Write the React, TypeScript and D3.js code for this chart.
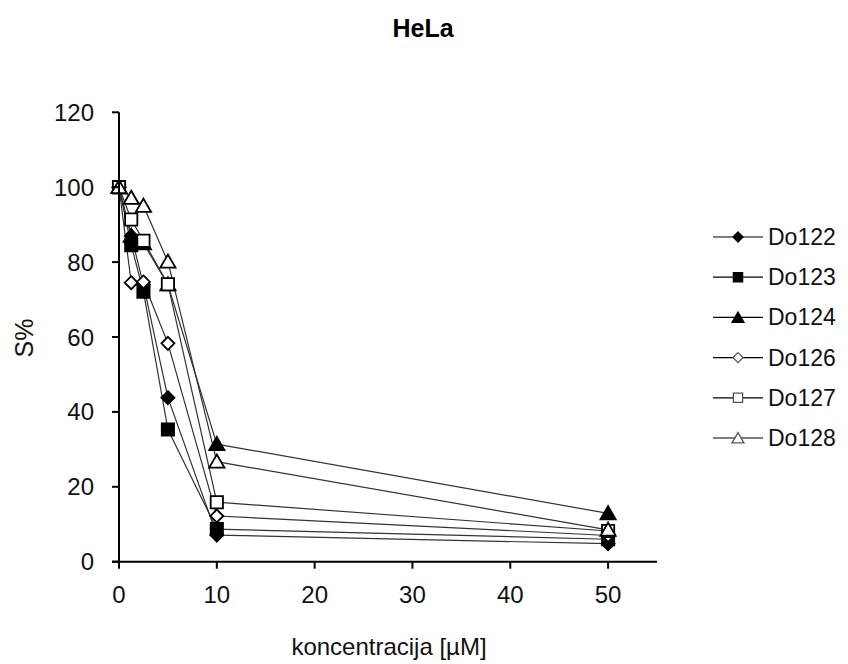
import React from "react";
import * as d3 from "d3";

const concentrations = [0, 1.25, 2.5, 5, 10, 50];
const seriesNames = ["Do122", "Do123", "Do124", "Do126", "Do127", "Do128"];
const do122 = [100, 87, 74, 43.8, 7.1, 4.8];
const do123 = [100, 84.5, 72.1, 35.3, 8.7, 6];
const do124 = [100, 87, 85, 74, 31.4, 12.9];
const do126 = [100, 74.5, 74.7, 58.3, 12.2, 7];
const do127 = [100, 91.4, 85.7, 74.1, 15.9, 8.2];
const do128 = [100, 97.1, 95, 80.1, 26.7, 8.5];
const xTicks = [0, 10, 20, 30, 40, 50];
const yTicks = [0, 20, 40, 60, 80, 100, 120];

const seriesValues = [do122, do123, do124, do126, do127, do128];
const markerTypes = ["diamond", "square", "triangle", "diamond", "square", "triangle"];
const markerFilled = [true, true, true, false, false, false];

const W = 848;
const H = 664;
const FONT = "Liberation Sans, Arial, sans-serif";

const x = d3.scaleLinear().domain([0, 55]).range([119, 657]);
const y = d3.scaleLinear().domain([0, 120]).range([561.7, 112.3]);

function symbolPath(type: string, big: boolean) {
  if (type === "diamond") {
    const r = big ? 6.5 : 5;
    return `M0,${-r}L${r},0L0,${r}L${-r},0Z`;
  }
  if (type === "square") {
    return d3.symbol().type(d3.symbolSquare).size(big ? 150 : 85)() as string;
  }
  return d3.symbol().type(d3.symbolTriangle).size(big ? 100 : 62)() as string;
}

function Marker({ type, filled, cx, cy, big }: any) {
  const d = symbolPath(type, big);
  const dy = type === "triangle" ? 1.5 : 0;
  return (
    <path
      d={d}
      transform={`translate(${cx},${cy + dy})`}
      fill={filled ? "#000" : "#fff"}
      stroke={filled ? "#000" : big ? "#000" : "#555"}
      strokeWidth={big ? 1.8 : 1.3}
    />
  );
}

export default function App() {
  const line = d3
    .line<number>()
    .x((_, i) => x(concentrations[i]))
    .y((v) => y(v));

  return (
    <svg
      width={W}
      height={H}
      style={{ position: "absolute", left: 0, top: 0, background: "#fff" }}
      fontFamily={FONT}
    >
      <rect x={0} y={0} width={W} height={H} fill="#fff" />
      <text x={423} y={37} textAnchor="middle" fontSize={25} fontWeight="bold">
        HeLa
      </text>

      {seriesValues.map((vals, i) => (
        <path key={"l" + i} d={line(vals) as string} fill="none" stroke="#333" strokeWidth={1.2} />
      ))}
      {seriesValues.map((vals, i) =>
        vals.map((v, j) => (
          <Marker
            key={"m" + i + "-" + j}
            type={markerTypes[i]}
            filled={markerFilled[i]}
            cx={x(concentrations[j])}
            cy={y(v)}
            big={true}
          />
        ))
      )}

      <line x1={x(0)} x2={x(0)} y1={y(120)} y2={y(0)} stroke="#000" strokeWidth={2} />
      {yTicks.map((t) => (
        <g key={"yt" + t}>
          <line x1={x(0) - 7} x2={x(0)} y1={y(t)} y2={y(t)} stroke="#000" strokeWidth={2} />
          <text x={94} y={y(t) + 8.5} textAnchor="end" fontSize={24} fill="#111">
            {t}
          </text>
        </g>
      ))}
      <line x1={x(0) - 7} x2={x(55)} y1={y(0)} y2={y(0)} stroke="#000" strokeWidth={2} />
      {xTicks.map((t) => (
        <g key={"xt" + t}>
          <line x1={x(t)} x2={x(t)} y1={y(0)} y2={y(0) + 7} stroke="#000" strokeWidth={2} />
          <text x={x(t)} y={603} textAnchor="middle" fontSize={24} fill="#111">
            {t}
          </text>
        </g>
      ))}

      <text x={389} y={655} textAnchor="middle" fontSize={24} fill="#111">
        koncentracija [µM]
      </text>
      <text
        transform={`translate(33,338) rotate(-90)`}
        textAnchor="middle"
        fontSize={25}
        fill="#111"
      >
        S%
      </text>

      {seriesNames.map((name, i) => {
        const ly = 237 + i * 40.2;
        return (
          <g key={"lg" + i}>
            <line x1={713} x2={763} y1={ly} y2={ly} stroke="#000" strokeWidth={1.2} />
            <Marker type={markerTypes[i]} filled={markerFilled[i]} cx={738} cy={ly} big={false} />
            <text x={768} y={ly + 8} fontSize={23} fill="#111">
              {name}
            </text>
          </g>
        );
      })}
    </svg>
  );
}
